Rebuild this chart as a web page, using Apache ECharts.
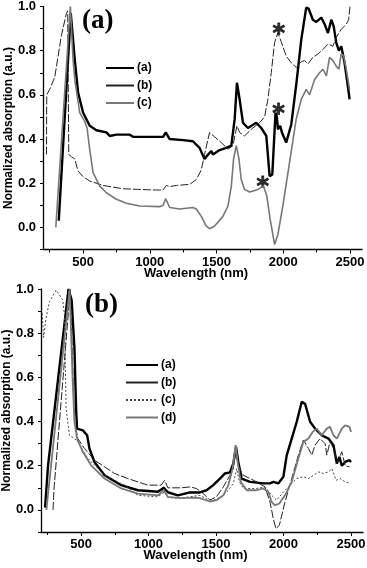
<!DOCTYPE html>
<html>
<head>
<meta charset="utf-8">
<script src="https://cdn.jsdelivr.net/npm/echarts@6/dist/echarts.min.js"></script>
<style>
  html, body { margin: 0; padding: 0; background: #fff; }
  #top { position: absolute; left: 0; top: 0; width: 367px; height: 282px; }
  #bottom { position: absolute; left: 0; top: 282px; width: 367px; height: 286px; }
</style>
</head>
<body>
<div id="top"></div>
<div id="bottom"></div>
<script>
// tick values
const majorX = [500, 1000, 1500, 2000, 2500]
const minorX = [250, 750, 1250, 1750, 2250]
const legendA = ['(a)', '(b)', '(c)']
const legendB = ['(a)', '(b)', '(c)', '(d)']

// panel (a) spectra: [wavelength nm, normalized absorption]
const topA = [[318,0.03],[408,0.97],[438,0.76],[463,0.61],[500,0.52],[550,0.46],[600,0.44],[675,0.43],[700,0.414],[750,0.42],[850,0.42],[875,0.41],[1074,0.41],[1100,0.41],[1120,0.43],[1149,0.40],[1250,0.395],[1323,0.39],[1373,0.36],[1410,0.31],[1430,0.325],[1461,0.346],[1473,0.33],[1523,0.35],[1573,0.36],[1611,0.37],[1636,0.49],[1653,0.655],[1673,0.58],[1698,0.474],[1735,0.45],[1798,0.474],[1835,0.45],[1873,0.414],[1898,0.232],[1918,0.24],[1942,0.52],[1952,0.5],[1960,0.444],[1977,0.46],[1990,0.43],[2022,0.384],[2060,0.466],[2098,0.65],[2135,0.85],[2172,0.995],[2190,0.99],[2222,0.94],[2247,0.93],[2285,0.95],[2310,0.92],[2335,0.88],[2360,0.94],[2378,0.91],[2397,0.837],[2417,0.8],[2435,0.82],[2459,0.746],[2484,0.64],[2497,0.58]]
const topB = [[226,0.33],[228,0.6],[251,0.626],[288,0.68],[338,0.87],[376,0.97],[385,0.98],[393,0.33],[413,0.32],[438,0.31],[463,0.255],[500,0.23],[550,0.21],[650,0.19],[800,0.175],[1000,0.17],[1074,0.169],[1100,0.17],[1124,0.19],[1150,0.185],[1200,0.19],[1300,0.195],[1349,0.217],[1386,0.26],[1410,0.33],[1448,0.43],[1486,0.41],[1536,0.384],[1586,0.354],[1623,0.37],[1653,0.46],[1673,0.43],[1710,0.414],[1760,0.444],[1823,0.474],[1860,0.5],[1885,0.58],[1910,0.70],[1935,0.837],[1960,0.88],[1985,0.84],[2022,0.776],[2060,0.745],[2098,0.724],[2135,0.75],[2160,0.755],[2185,0.74],[2222,0.77],[2260,0.785],[2298,0.806],[2335,0.83],[2372,0.82],[2397,0.86],[2435,0.897],[2472,0.92],[2490,0.94],[2500,1.0]]
const topC = [[296,0.0],[405,1.0],[425,0.76],[438,0.67],[475,0.52],[513,0.48],[530,0.45],[550,0.353],[575,0.248],[625,0.187],[675,0.157],[750,0.127],[825,0.109],[924,0.097],[1074,0.094],[1100,0.1],[1119,0.13],[1149,0.09],[1224,0.083],[1323,0.09],[1349,0.083],[1386,0.05],[1423,0.006],[1448,-0.006],[1486,0.006],[1548,0.05],[1586,0.097],[1611,0.187],[1628,0.31],[1648,0.37],[1668,0.31],[1685,0.217],[1710,0.172],[1748,0.16],[1810,0.172],[1852,0.187],[1877,0.142],[1902,0.036],[1935,-0.077],[1960,-0.032],[1997,0.097],[2047,0.293],[2097,0.49],[2135,0.58],[2172,0.625],[2197,0.6],[2235,0.67],[2272,0.70],[2298,0.716],[2323,0.686],[2347,0.77],[2372,0.755],[2397,0.73],[2417,0.716],[2434,0.785],[2452,0.777],[2472,0.716],[2497,0.625]]
const starsTop = [[1967,0.91],[1965,0.547],[1847,0.217]]

// panel (b) spectra
const botA = [[233,0.01],[255,0.2],[407,1.0],[430,0.95],[451,0.73],[463,0.46],[470,0.368],[513,0.36],[545,0.338],[562,0.278],[599,0.217],[674,0.157],[797,0.112],[921,0.089],[1069,0.082],[1113,0.10],[1143,0.08],[1217,0.066],[1306,0.079],[1380,0.079],[1430,0.089],[1479,0.112],[1529,0.142],[1566,0.165],[1603,0.17],[1628,0.21],[1648,0.285],[1665,0.217],[1690,0.142],[1752,0.127],[1850,0.12],[1900,0.12],[1925,0.127],[1961,0.12],[1999,0.15],[2024,0.248],[2061,0.323],[2098,0.399],[2135,0.489],[2160,0.48],[2197,0.399],[2234,0.368],[2283,0.338],[2333,0.323],[2370,0.293],[2395,0.21],[2414,0.24],[2432,0.2],[2457,0.217],[2489,0.225],[2500,0.217]]
const botB = [[292,0.0],[300,0.1],[420,1.0],[451,0.399],[476,0.323],[525,0.278],[599,0.225],[674,0.195],[748,0.165],[846,0.142],[995,0.112],[1093,0.112],[1119,0.134],[1143,0.10],[1242,0.10],[1306,0.104],[1355,0.097],[1405,0.074],[1455,0.044],[1504,0.06],[1554,0.104],[1603,0.157],[1628,0.187],[1648,0.278],[1665,0.195],[1702,0.157],[1801,0.127],[1863,0.104],[1900,0.036],[1924,-0.039],[1944,-0.085],[1969,-0.07],[2011,0.036],[2061,0.142],[2110,0.248],[2147,0.316],[2185,0.278],[2209,0.248],[2234,0.293],[2271,0.323],[2308,0.3],[2321,0.248],[2345,0.31],[2370,0.278],[2400,0.217],[2432,0.263],[2457,0.2],[2489,0.195]]
const botC = [[212,0.89],[222,0.78],[240,0.867],[265,0.942],[315,0.995],[340,0.973],[364,0.95],[377,0.882],[389,0.459],[401,0.399],[414,0.338],[451,0.323],[476,0.308],[550,0.233],[674,0.157],[822,0.112],[921,0.066],[1069,0.059],[1118,0.081],[1143,0.056],[1217,0.053],[1306,0.059],[1380,0.066],[1430,0.05],[1479,0.044],[1541,0.059],[1591,0.089],[1628,0.119],[1653,0.187],[1673,0.127],[1702,0.097],[1801,0.097],[1863,0.104],[1912,0.066],[1949,0.044],[1999,0.081],[2048,0.112],[2098,0.142],[2147,0.15],[2185,0.142],[2222,0.157],[2259,0.172],[2296,0.165],[2333,0.172],[2358,0.187],[2390,0.134],[2420,0.142],[2457,0.127],[2494,0.12]]
const botD = [[243,0.0],[415,1.0],[438,0.58],[451,0.4],[470,0.323],[513,0.263],[574,0.202],[674,0.142],[797,0.097],[921,0.074],[1069,0.066],[1113,0.089],[1143,0.059],[1242,0.053],[1341,0.056],[1380,0.053],[1455,0.038],[1504,0.044],[1554,0.066],[1591,0.112],[1623,0.187],[1645,0.293],[1660,0.217],[1683,0.127],[1727,0.089],[1801,0.089],[1850,0.097],[1888,0.081],[1912,0.036],[1937,0.021],[1969,0.029],[2011,0.066],[2061,0.127],[2110,0.233],[2147,0.308],[2185,0.323],[2216,0.353],[2246,0.368],[2283,0.338],[2321,0.368],[2345,0.376],[2370,0.338],[2395,0.323],[2432,0.368],[2457,0.383],[2489,0.376],[2500,0.353]]

const FONT = 'Liberation Sans'

const makeAxes = (xMin, xMax) => {
    const xMain = {
        type: 'value', min: xMin, max: xMax,
        axisLine: { onZero: false, lineStyle: { color: '#000', width: 1.3 } },
        axisTick: { customValues: majorX, length: 4, lineStyle: { color: '#000' } },
        axisLabel: {
            customValues: majorX, color: '#000', fontFamily: FONT, fontWeight: 'bold', fontSize: 13, margin: 6,
            formatter: v => String(v)
        },
        splitLine: { show: false },
        name: 'Wavelength (nm)', nameLocation: 'middle', nameGap: 17, nameMoveOverlap: false,
        nameTextStyle: { color: '#000', fontFamily: FONT, fontWeight: 'bold', fontSize: 13, padding: [0, 13, 0, 0] }
    }
    // minor ticks only
    const xMinor = {
        type: 'value', min: xMin, max: xMax, position: 'bottom', offset: 0,
        axisLine: { show: false, onZero: false },
        axisTick: { customValues: minorX, length: 3, lineStyle: { color: '#000' } },
        axisLabel: { show: false },
        splitLine: { show: false }
    }
    const y = {
        type: 'value', min: -0.1, max: 1.0, interval: 0.1,
        axisLine: { show: true, onZero: false, lineStyle: { color: '#000', width: 1.3 } },
        axisTick: { show: true, length: 3, lineStyle: { color: '#000' } },
        axisLabel: {
            color: '#000', fontFamily: FONT, fontWeight: 'bold', fontSize: 13, margin: 7,
            formatter: v => {
                const k = Math.round(v * 10)
                return (k >= 0 && k % 2 === 0) ? (k / 10).toFixed(1) : ''
            }
        },
        splitLine: { show: false },
        name: 'Normalized absorption (a.u.)', nameLocation: 'middle', nameGap: 28, nameMoveOverlap: false,
        nameTextStyle: { color: '#000', fontFamily: FONT, fontWeight: 'bold', fontSize: 12 }
    }
    return { xAxis: [xMain, xMinor], yAxis: y }
}

const line = (name, data, color, width, type) => ({
    name, type: 'line', data, xAxisIndex: 0,
    symbol: 'none', showSymbol: false, clip: true,
    lineStyle: { color, width, type: type || 'solid' },
    itemStyle: { color }
})

const legendStyle = (left, top, width, names, extra) => ({
    orient: 'vertical', left, top, itemWidth: width, itemHeight: 10, itemGap: 3.5,
    data: names.map(n => Object.assign({ name: n }, extra[n] || {})),
    itemStyle: { color: 'rgba(0,0,0,0)', borderColor: 'rgba(0,0,0,0)', borderWidth: 0 },
    textStyle: { color: '#000', fontFamily: FONT, fontWeight: 'bold', fontSize: 12, lineHeight: 14, padding: [0, 0, 0, -2] },
    selectedMode: false
})

const topChart = echarts.init(document.getElementById('top'))
topChart.setOption({
    animation: false,
    title: { text: '(a)', left: 77, top: 3, textStyle: { fontFamily: 'Liberation Serif', fontWeight: 'bold', fontSize: 27, color: '#000' } },
    grid: { left: 43, top: 6.5, width: 319, height: 243, outerBoundsMode: 'none', containLabel: false },
    ...makeAxes(200, 2590),
    legend: legendStyle(100, 56, 28, legendA, { '(b)': { lineStyle: { type: 'solid' } } }),
    series: [
        line('(a)', topA, '#000', 2.4),
        line('(b)', topB, '#222', 1, [8, 2]),
        line('(c)', topC, '#777', 1.6),
        {
            name: 'stars', type: 'scatter', data: starsTop, symbol: 'circle', symbolSize: 1,
            itemStyle: { color: 'rgba(0,0,0,0)' },
            label: {
                show: true, formatter: '*', position: 'inside', offset: [0, 8], color: '#000',
                fontFamily: 'DejaVu Sans', fontWeight: 'bold', fontSize: 24,
                textBorderColor: '#000', textBorderWidth: 0.8
            }
        }
    ]
})

const bottomChart = echarts.init(document.getElementById('bottom'))
bottomChart.setOption({
    animation: false,
    title: { text: '(b)', left: 80, top: 5, textStyle: { fontFamily: 'Liberation Serif', fontWeight: 'bold', fontSize: 27, color: '#000' } },
    grid: { left: 41, top: 7, width: 322, height: 243, outerBoundsMode: 'none', containLabel: false },
    ...makeAxes(203, 2589),
    legend: legendStyle(120, 71, 32, legendB, { '(b)': { lineStyle: { type: 'solid' } } }),
    series: [
        line('(a)', botA, '#000', 2.4),
        line('(b)', botB, '#222', 1, [8, 2]),
        line('(c)', botC, '#444', 1, [2, 2]),
        line('(d)', botD, '#777', 1.8)
    ]
})
</script>
</body>
</html>
